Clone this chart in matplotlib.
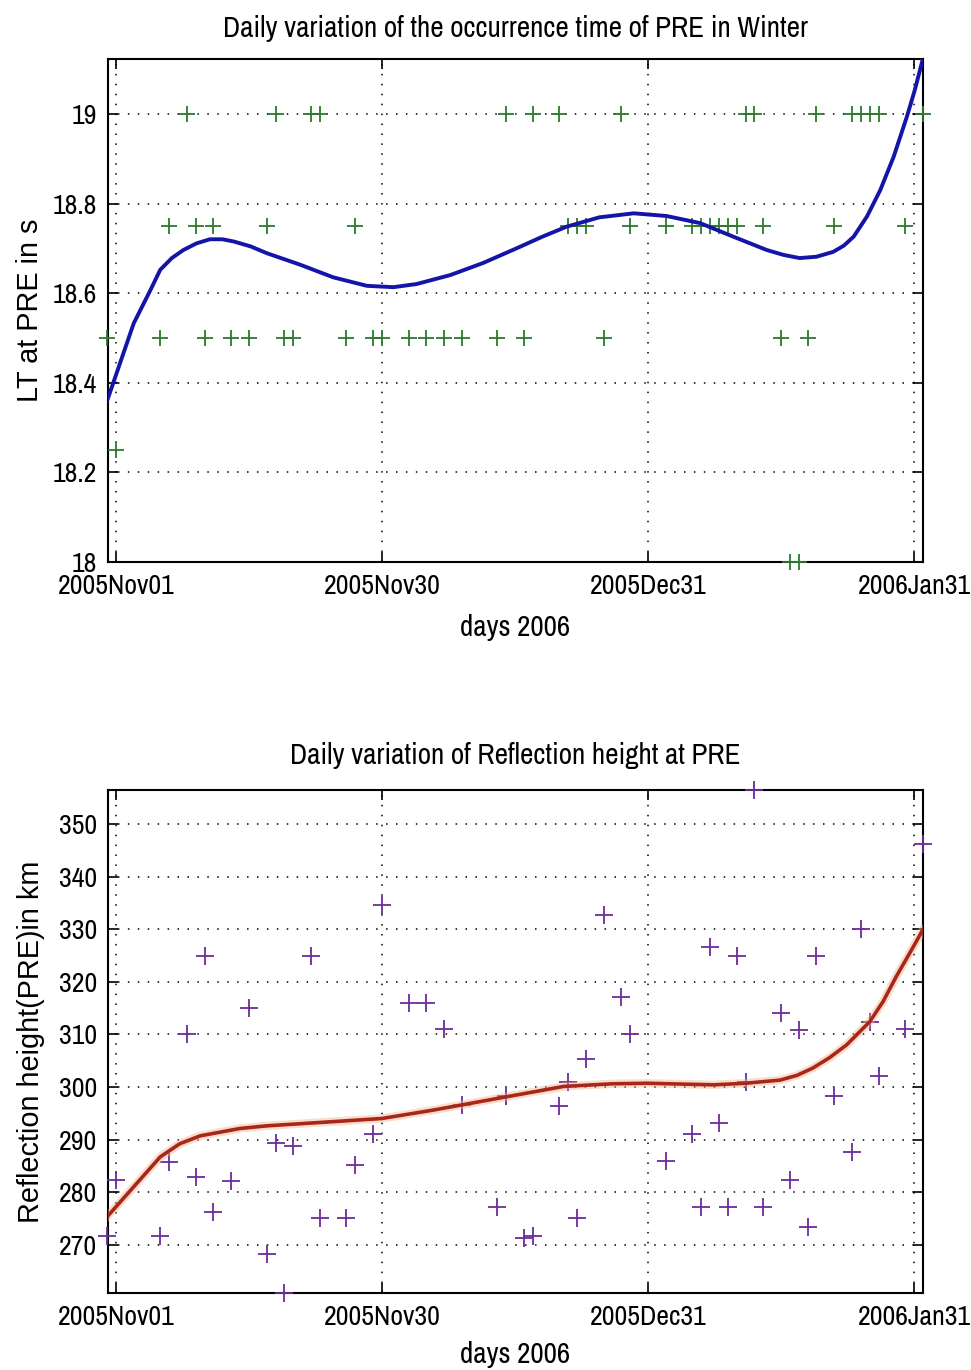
import matplotlib
matplotlib.use("Agg")
import matplotlib.pyplot as plt

# ---------------- data ----------------
tick_days = [1, 31, 61, 91]
tick_labels = ["2005Nov01", "2005Nov30", "2005Dec31", "2006Jan31"]

days = [0, 1, 6, 7, 9, 10, 11, 12, 14, 16, 18, 19, 20, 21, 23, 24, 27, 28, 30, 31,
        34, 36, 38, 40, 44, 45, 47, 48, 51, 52, 53, 54, 56, 58, 59, 63, 66, 67, 68,
        69, 70, 71, 72, 73, 74, 76, 77, 78, 79, 80, 82, 84, 85, 86, 87, 90, 92]

lt_pre = [18.5, 18.25, 18.5, 18.75, 19.0, 18.75, 18.5, 18.75, 18.5, 18.5, 18.75, 19.0,
          18.5, 18.5, 19.0, 19.0, 18.5, 18.75, 18.5, 18.5,
          18.5, 18.5, 18.5, 18.5, 18.5, 19.0, 18.5, 19.0, 19.0, 18.75, 18.75, 18.75,
          18.5, 19.0, 18.75, 18.75, 18.75, 18.75, 18.75,
          18.75, 18.75, 18.75, 19.0, 19.0, 18.75, 18.5, 18.0, 18.0, 18.5, 19.0, 18.75,
          19.0, 19.0, 19.0, 19.0, 18.75, 19.0]

height_pre = [271.7, 282.3, 271.7, 285.8, 310.0, 282.9, 325.0, 276.3, 282.2, 315.0,
              268.2, 289.3, 260.8, 288.8, 325.0, 275.0, 275.0, 285.2, 291.0, 334.6,
              316.0, 316.0, 311.0, 296.6, 277.2, 298.2, 271.2, 271.7, 296.4, 301.0,
              275.0, 305.3, 332.7, 317.1, 310.0, 285.9, 291.0, 277.2, 326.7,
              293.1, 277.2, 325.0, 301.0, 356.5, 277.2, 314.0, 282.3, 310.9, 273.4,
              325.0, 298.2, 287.7, 330.0, 312.4, 302.0, 311.0, 346.3]

# fitted trend curves
fit_lt_days = [0, 3, 4.9, 6, 7.3, 8.6, 10.1, 11.6, 13.0, 14.3, 16.2, 18, 21.8, 25.5,
               29.3, 32.3, 34.9, 38.7, 42.4, 46.2, 49.0, 51.8, 55.5, 59.4, 63.1, 66.9,
               70.6, 74.4, 76.3, 78.1, 80.0, 81.9, 83.1, 84.2, 85.7, 87.2, 88.7, 90.2,
               91.1, 92]
fit_lt_vals = [18.36, 18.533, 18.608, 18.653, 18.679, 18.697, 18.712, 18.721, 18.721,
               18.716, 18.705, 18.690, 18.664, 18.636, 18.617, 18.614, 18.621, 18.641,
               18.668, 18.701, 18.726, 18.749, 18.770, 18.779, 18.773, 18.757, 18.727,
               18.697, 18.686, 18.679, 18.682, 18.693, 18.707, 18.727, 18.772, 18.831,
               18.905, 18.995, 19.055, 19.124]

fit_h_days = [0, 3, 6, 8.2, 10.5, 15, 18, 25.5, 31, 36.8, 44.3, 51.5, 57, 60.9, 68.4,
              72, 75.9, 77.8, 79.6, 81.5, 83.4, 86, 87.5, 89, 90.5, 92]
fit_h_vals = [275.3, 281.0, 286.7, 289.2, 290.7, 292.1, 292.6, 293.4, 294.0, 295.6,
              297.9, 300.1, 300.6, 300.7, 300.4, 300.7, 301.3, 302.2, 303.6, 305.6,
              308.0, 312.4, 316.2, 321.0, 325.4, 329.9]

# ---------------- style ----------------
narrow = ["Archivo Narrow", "Roboto Condensed", "Liberation Sans", "DejaVu Sans"]
regular = ["Liberation Sans", "DejaVu Sans"]

fig = plt.figure(figsize=(9.71, 13.70), dpi=100)
fig.patch.set_facecolor("white")

ax1 = fig.add_axes([0.1112, 0.5898, 0.8394, 0.3672])
ax2 = fig.add_axes([0.1112, 0.0562, 0.8394, 0.3672])


def style(ax, ylim, yticks):
    ax.set_xlim(0.1, 92.02)
    ax.set_ylim(*ylim)
    ax.set_xticks(tick_days)
    ax.set_xticklabels(tick_labels, family=narrow, fontsize=20)
    ax.set_yticks(yticks)
    ax.set_yticklabels([f"{t:g}" for t in yticks], family=narrow, fontsize=20)
    ax.tick_params(direction="in", length=7, width=1.2, top=True, right=True,
                   color="black")
    ax.tick_params(axis="y", pad=8)
    ax.tick_params(axis="x", pad=8.5)
    ax.grid(True, color="black", linestyle=(0, (1, 5.5)), linewidth=1.1)
    for s in ax.spines.values():
        s.set_linewidth(1.5)
        s.set_color("black")
    ax.set_axisbelow(True)


# top panel
ax1.plot(days, lt_pre, linestyle="none", marker="+", markersize=12,
         markeredgewidth=1.3, color="#2c7a2c", clip_on=False, zorder=3)
ax1.plot(fit_lt_days, fit_lt_vals, color="#1414a8", linewidth=2.8, zorder=4,
         solid_joinstyle="round")
style(ax1, (18.0, 19.124), [18, 18.2, 18.4, 18.6, 18.8, 19])
ax1.set_title("Daily variation of the occurrence time of PRE in Winter",
              family=narrow, fontsize=21, pad=16)
ax1.set_xlabel("days 2006", family=narrow, fontsize=21, labelpad=11)
ax1.set_ylabel("LT at PRE in s", family=regular, fontsize=20.8)
ax1.yaxis.set_label_coords(-0.078, 0.5)

# bottom panel
ax2.plot(days, height_pre, linestyle="none", marker="+", markersize=13,
         markeredgewidth=1.3, color="#6a2c9c", clip_on=False, zorder=3)
ax2.plot(fit_h_days, fit_h_vals, color="#f3b48c", linewidth=6, alpha=0.45, zorder=4)
ax2.plot(fit_h_days, fit_h_vals, color="#a8261a", linewidth=2.6, zorder=5,
         solid_joinstyle="round")
style(ax2, (260.8, 356.5), [270, 280, 290, 300, 310, 320, 330, 340, 350])
ax2.set_title("Daily variation of Reflection height at PRE",
              family=narrow, fontsize=21, pad=19)
ax2.set_xlabel("days 2006", family=narrow, fontsize=21, labelpad=8)
ax2.set_ylabel("Reflection height(PRE)in km", family=regular, fontsize=20.8)
ax2.yaxis.set_label_coords(-0.077, 0.5)

fig.savefig("out.png", dpi=100, facecolor="white")
